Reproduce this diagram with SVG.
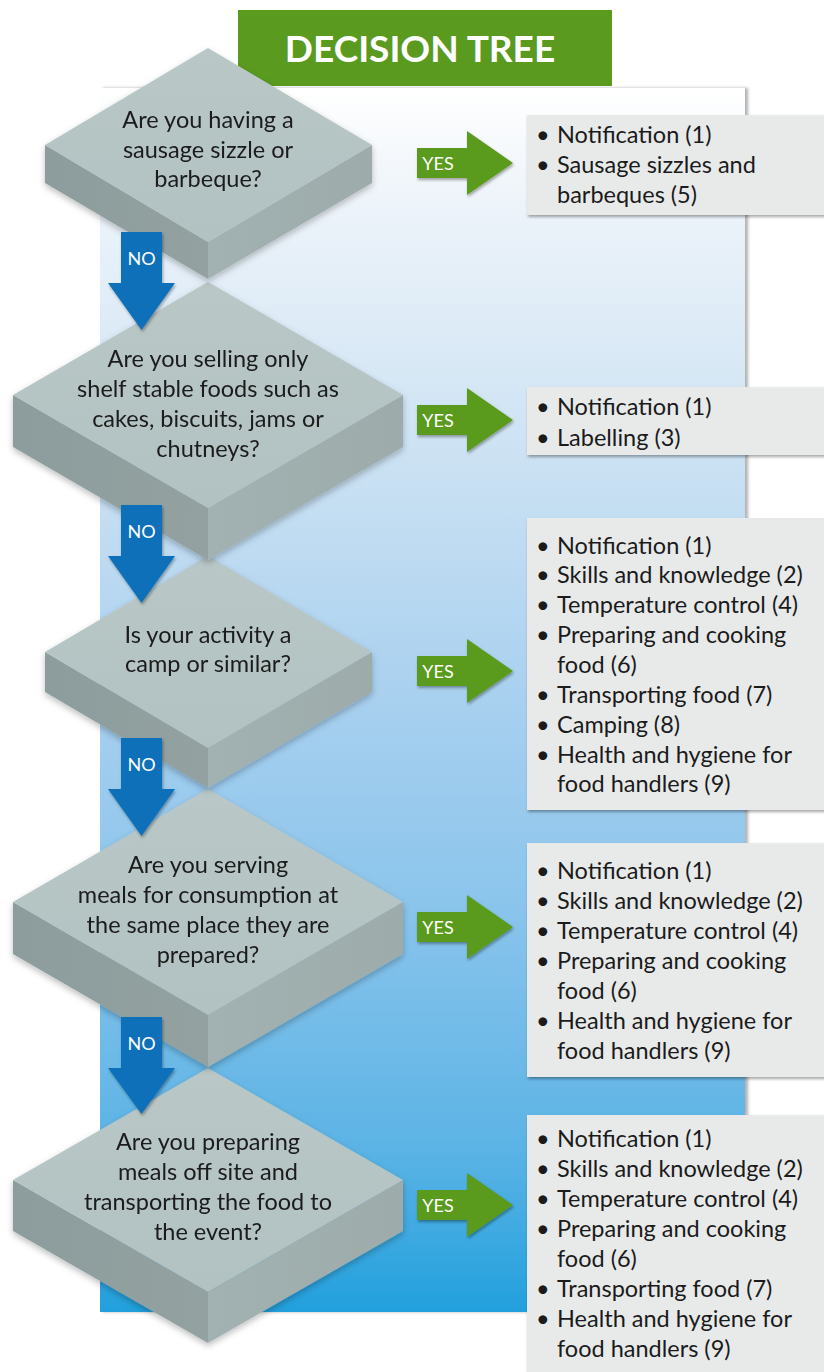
<svg xmlns="http://www.w3.org/2000/svg" width="824" height="1372" viewBox="0 0 824 1372">
<defs>
<linearGradient id="panelGrad" x1="0" y1="0" x2="0" y2="1">
<stop offset="0" stop-color="#ffffff"/>
<stop offset="0.09" stop-color="#eef4fa"/>
<stop offset="0.3" stop-color="#cce2f3"/>
<stop offset="0.5" stop-color="#a8d0ef"/>
<stop offset="0.66" stop-color="#8cc5ec"/>
<stop offset="0.87" stop-color="#5ab3e5"/>
<stop offset="1" stop-color="#22a0dd"/>
</linearGradient>
<linearGradient id="topGrad" x1="0" y1="0" x2="0" y2="1">
<stop offset="0" stop-color="#b9c7c7"/>
<stop offset="1" stop-color="#b2c1c1"/>
</linearGradient>
<linearGradient id="leftGrad" x1="0" y1="0" x2="1" y2="0">
<stop offset="0" stop-color="#8d9c9c"/>
<stop offset="1" stop-color="#93a1a1"/>
</linearGradient>
<linearGradient id="rightGrad" x1="0" y1="0" x2="1" y2="0">
<stop offset="0" stop-color="#a2b1b1"/>
<stop offset="1" stop-color="#9dabab"/>
</linearGradient>
<filter id="shadow" x="-10%" y="-10%" width="130%" height="130%">
<feDropShadow dx="1" dy="2" stdDeviation="1.5" flood-color="#000" flood-opacity="0.35"/>
</filter>
<filter id="panelShadow" x="-5%" y="-5%" width="110%" height="110%">
<feDropShadow dx="3" dy="0" stdDeviation="1.5" flood-color="#555" flood-opacity="0.45"/>
</filter>
<filter id="dShadow" x="-10%" y="-10%" width="120%" height="130%">
<feDropShadow dx="0" dy="3" stdDeviation="3" flood-color="#000" flood-opacity="0.25"/>
</filter>
</defs>
<style>
.top{fill:url(#topGrad)}
.left{fill:url(#leftGrad)}
.right{fill:url(#rightGrad)}
.q{font-family:Lato,"Liberation Sans",sans-serif;font-size:23.5px;fill:#1b1b1b;text-anchor:middle}
.li{font-family:Lato,"Liberation Sans",sans-serif;font-size:23.5px;fill:#1b1b1b}
.box{fill:#e8eaea;filter:url(#shadow)}
.yes{fill:#5a9a1f;filter:url(#shadow)}
.no{fill:#0d70b8;filter:url(#shadow)}
.lbl{font-family:Lato,"Liberation Sans",sans-serif;font-size:18px;fill:#ffffff;text-anchor:middle}
</style>
<rect width="824" height="1372" fill="#ffffff"/>
<rect id="panel" x="100" y="88" width="645" height="1224" fill="url(#panelGrad)" filter="url(#panelShadow)"/>
<g id="title">
<rect x="238" y="10" width="374" height="76" fill="#5a9a1f"/>
<text x="420" y="62" font-family="Lato,'Liberation Sans',sans-serif" font-size="37" font-weight="bold" fill="#ffffff" text-anchor="middle">DECISION TREE</text>
</g>
<g id="q5" filter="url(#dShadow)">
<polygon class="left" points="13,1180 208,1292 208,1343 13,1231"/>
<polygon class="right" points="208,1292 403,1180 403,1231 208,1343"/>
<polygon class="top" points="208,1068 403,1180 208,1292 13,1180"/>
<text class="q" x="208" y="1150">Are you preparing</text>
<text class="q" x="208" y="1180">meals off site and</text>
<text class="q" x="208" y="1210">transporting the food to</text>
<text class="q" x="208" y="1240">the event?</text>
</g>
<g id="q4" filter="url(#dShadow)">
<polygon class="left" points="13,902 208,1015 208,1067 13,954"/>
<polygon class="right" points="208,1015 403,902 403,954 208,1067"/>
<polygon class="top" points="208,789 403,902 208,1015 13,902"/>
<text class="q" x="208" y="873">Are you serving</text>
<text class="q" x="208" y="903">meals for consumption at</text>
<text class="q" x="208" y="933">the same place they are</text>
<text class="q" x="208" y="963">prepared?</text>
</g>
<g id="q3" filter="url(#dShadow)">
<polygon class="left" points="45,652 208,748 208,788 45,692"/>
<polygon class="right" points="208,748 372,652 372,692 208,788"/>
<polygon class="top" points="208,556 372,652 208,748 45,652"/>
<text class="q" x="208" y="643">Is your activity a</text>
<text class="q" x="208" y="672">camp or similar?</text>
</g>
<g id="q2" filter="url(#dShadow)">
<polygon class="left" points="13,395 208,508 208,560 13,447"/>
<polygon class="right" points="208,508 403,395 403,447 208,560"/>
<polygon class="top" points="208,282 403,395 208,508 13,395"/>
<text class="q" x="208" y="367">Are you selling only</text>
<text class="q" x="208" y="397">shelf stable foods such as</text>
<text class="q" x="208" y="427">cakes, biscuits, jams or</text>
<text class="q" x="208" y="457">chutneys?</text>
</g>
<g id="q1" filter="url(#dShadow)">
<polygon class="left" points="45,145 208,242 208,279 45,183"/>
<polygon class="right" points="208,242 372,145 372,183 208,279"/>
<polygon class="top" points="208,48 372,145 208,242 45,145"/>
<text class="q" x="208" y="128">Are you having a</text>
<text class="q" x="208" y="158">sausage sizzle or</text>
<text class="q" x="208" y="187">barbeque?</text>
</g>
<g id="a1">
<rect class="box" x="527" y="115" width="305" height="100"/>
<text class="li" x="536" y="143">•</text><text class="li" x="557" y="143">Notification (1)</text>
<text class="li" x="536" y="173">•</text><text class="li" x="557" y="173">Sausage sizzles and</text>
<text class="li" x="557" y="203">barbeques (5)</text>
</g>
<g id="a2">
<rect class="box" x="527" y="387" width="305" height="68"/>
<text class="li" x="536" y="415">•</text><text class="li" x="557" y="415">Notification (1)</text>
<text class="li" x="536" y="446">•</text><text class="li" x="557" y="446">Labelling (3)</text>
</g>
<g id="a3">
<rect class="box" x="527" y="518" width="305" height="292"/>
<text class="li" x="536" y="554">•</text><text class="li" x="557" y="554">Notification (1)</text>
<text class="li" x="536" y="583">•</text><text class="li" x="557" y="583">Skills and knowledge (2)</text>
<text class="li" x="536" y="613">•</text><text class="li" x="557" y="613">Temperature control (4)</text>
<text class="li" x="536" y="643">•</text><text class="li" x="557" y="643">Preparing and cooking</text>
<text class="li" x="557" y="673">food (6)</text>
<text class="li" x="536" y="703">•</text><text class="li" x="557" y="703">Transporting food (7)</text>
<text class="li" x="536" y="733">•</text><text class="li" x="557" y="733">Camping (8)</text>
<text class="li" x="536" y="763">•</text><text class="li" x="557" y="763">Health and hygiene for</text>
<text class="li" x="557" y="792">food handlers (9)</text>
</g>
<g id="a4">
<rect class="box" x="527" y="843" width="305" height="234"/>
<text class="li" x="536" y="879">•</text><text class="li" x="557" y="879">Notification (1)</text>
<text class="li" x="536" y="909">•</text><text class="li" x="557" y="909">Skills and knowledge (2)</text>
<text class="li" x="536" y="939">•</text><text class="li" x="557" y="939">Temperature control (4)</text>
<text class="li" x="536" y="969">•</text><text class="li" x="557" y="969">Preparing and cooking</text>
<text class="li" x="557" y="999">food (6)</text>
<text class="li" x="536" y="1029">•</text><text class="li" x="557" y="1029">Health and hygiene for</text>
<text class="li" x="557" y="1059">food handlers (9)</text>
</g>
<g id="a5">
<rect class="box" x="527" y="1115" width="305" height="270"/>
<text class="li" x="536" y="1147">•</text><text class="li" x="557" y="1147">Notification (1)</text>
<text class="li" x="536" y="1177">•</text><text class="li" x="557" y="1177">Skills and knowledge (2)</text>
<text class="li" x="536" y="1207">•</text><text class="li" x="557" y="1207">Temperature control (4)</text>
<text class="li" x="536" y="1237">•</text><text class="li" x="557" y="1237">Preparing and cooking</text>
<text class="li" x="557" y="1267">food (6)</text>
<text class="li" x="536" y="1297">•</text><text class="li" x="557" y="1297">Transporting food (7)</text>
<text class="li" x="536" y="1327">•</text><text class="li" x="557" y="1327">Health and hygiene for</text>
<text class="li" x="557" y="1357">food handlers (9)</text>
</g>
<g id="connectors">
<path class="no" d="M121,232 H162 V283 H175 L141.5,330 L108,283 H121 Z"/>
<text class="lbl" x="141.5" y="265">NO</text>
<path class="no" d="M121,505 H162 V556 H175 L141.5,603 L108,556 H121 Z"/>
<text class="lbl" x="141.5" y="538">NO</text>
<path class="no" d="M121,738 H162 V789 H175 L141.5,836 L108,789 H121 Z"/>
<text class="lbl" x="141.5" y="771">NO</text>
<path class="no" d="M121,1017 H162 V1068 H175 L141.5,1114 L108,1068 H121 Z"/>
<text class="lbl" x="141.5" y="1050">NO</text>
<path class="yes" d="M417,148 H467 V131 L513,163 L467,195 V178 H417 Z"/>
<text class="lbl" x="438" y="170">YES</text>
<path class="yes" d="M417,405 H467 V388 L513,420 L467,452 V435 H417 Z"/>
<text class="lbl" x="438" y="427">YES</text>
<path class="yes" d="M417,656 H467 V639 L513,671 L467,703 V686 H417 Z"/>
<text class="lbl" x="438" y="678">YES</text>
<path class="yes" d="M417,912 H467 V895 L513,927 L467,959 V942 H417 Z"/>
<text class="lbl" x="438" y="934">YES</text>
<path class="yes" d="M417,1190 H467 V1173 L513,1205 L467,1237 V1220 H417 Z"/>
<text class="lbl" x="438" y="1212">YES</text>
</g>
</svg>
